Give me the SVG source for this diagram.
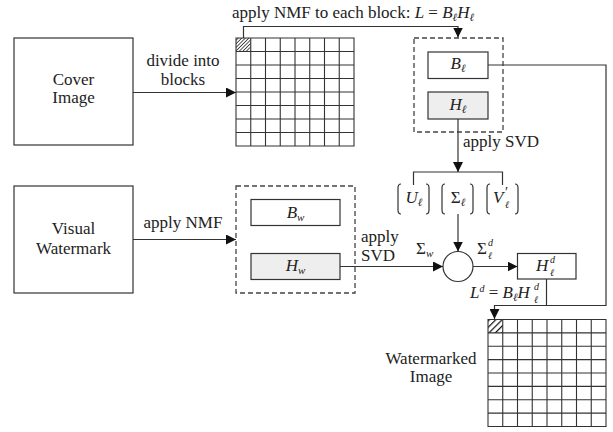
<svg xmlns="http://www.w3.org/2000/svg" width="613" height="432" viewBox="0 0 613 432">
<style>
text{font-family:"Liberation Serif","DejaVu Serif","Times New Roman",serif;font-size:17px;fill:#222}
.c{text-anchor:middle}
.m{font-style:italic}
.s{font-size:11px}
.t{font-size:10px;font-style:italic}
.box{fill:#fff;stroke:#333;stroke-width:1.2}
.gbox{fill:#eee;stroke:#333;stroke-width:1.2}
.dash{fill:none;stroke:#444;stroke-width:1.3;stroke-dasharray:5,3}
.ln{fill:none;stroke:#333;stroke-width:1.2}
.grid{stroke:#333;stroke-width:1.1;fill:none}
</style>
<defs>
<marker id="ahb" viewBox="0 0 10 10" refX="10" refY="5" markerWidth="10" markerHeight="10" markerUnits="userSpaceOnUse" orient="auto">
<path d="M0,0 L10,5 L0,10 z" fill="#111"/>
</marker>
<pattern id="h1" patternUnits="userSpaceOnUse" width="2.5" height="2.5" patternTransform="rotate(45)">
<rect width="2.5" height="2.5" fill="#fff"/>
<line x1="0" y1="0" x2="0" y2="2.5" stroke="#111" stroke-width="1.4"/>
</pattern>
<pattern id="h2" patternUnits="userSpaceOnUse" width="4.5" height="4.5" patternTransform="rotate(45)">
<rect width="4.5" height="4.5" fill="#fff"/>
<line x1="0" y1="0" x2="0" y2="4.5" stroke="#111" stroke-width="2.4"/>
</pattern>
</defs>

<g id="cover">
<rect class="box" x="14" y="38" width="119" height="107"/>
<text class="c" x="73.5" y="85">Cover</text>
<text class="c" x="73.5" y="103">Image</text>
</g>

<g id="watermark">
<rect class="box" x="14" y="186" width="119" height="107"/>
<text class="c" x="73.5" y="234">Visual</text>
<text class="c" x="73.5" y="254">Watermark</text>
</g>

<g id="grid1">
<rect x="236" y="38" width="14.75" height="13.5" fill="url(#h1)"/>
<path class="grid" d="M236,38H354V146H236Z M250.75,38V146 M265.5,38V146 M280.25,38V146 M295,38V146 M309.75,38V146 M324.5,38V146 M339.25,38V146 M236,51.5H354 M236,65H354 M236,78.5H354 M236,92H354 M236,105.5H354 M236,119H354 M236,132.5H354"/>
</g>

<g id="nmf-block">
<rect class="dash" x="414" y="38" width="89" height="94"/>
<g id="Bl">
<rect class="box" x="428" y="52" width="60" height="26.5"/>
<text class="c" x="458" y="69"><tspan class="m">B</tspan><tspan class="m s" dy="3">ℓ</tspan></text>
</g>
<g id="Hl">
<rect class="gbox" x="428" y="92" width="60" height="27"/>
<text class="c" x="458" y="110"><tspan class="m">H</tspan><tspan class="m s" dy="3">ℓ</tspan></text>
</g>
</g>

<g id="nmf-wm">
<rect class="dash" x="236" y="186" width="119" height="107"/>
<g id="Bw">
<rect class="box" x="251" y="199.5" width="89" height="26"/>
<text class="c" x="295.5" y="217.5"><tspan class="m">B</tspan><tspan class="m s" dy="3">w</tspan></text>
</g>
<g id="Hw">
<rect class="gbox" x="251" y="253.5" width="89" height="26"/>
<text class="c" x="295.5" y="271"><tspan class="m">H</tspan><tspan class="m s" dy="3">w</tspan></text>
</g>
</g>

<g id="svd">
<path class="ln" d="M401,184 q-3,0 -3,4 v22 q0,4 3,4 M426,184 q3,0 3,4 v22 q0,4 -3,4"/>
<text class="c" x="414" y="203"><tspan class="m">U</tspan><tspan class="m s" dy="3">ℓ</tspan></text>
<path class="ln" d="M445,184 q-3,0 -3,4 v22 q0,4 3,4 M470,184 q3,0 3,4 v22 q0,4 -3,4"/>
<text class="c" x="458" y="203">Σ<tspan class="m s" dy="3">ℓ</tspan></text>
<path class="ln" d="M490,184 q-3,0 -3,4 v22 q0,4 3,4 M515,184 q3,0 3,4 v22 q0,4 -3,4"/>
<text x="493" y="203" class="m">V</text>
<text x="505" y="197" style="font-size:14px">′</text>
<text x="505" y="207.5" class="t">ℓ</text>
</g>

<g id="combine">
<circle cx="458" cy="266.5" r="15" fill="#fff" stroke="#333" stroke-width="1.2"/>
</g>

<g id="Hd">
<rect class="box" x="517.5" y="253.5" width="58.5" height="25.5"/>
<text x="536" y="271" class="m">H</text>
<text x="550" y="263" class="t">d</text>
<text x="550" y="275.5" class="t">ℓ</text>
</g>

<g id="grid2">
<rect x="488" y="319.5" width="14.75" height="13.4" fill="url(#h2)"/>
<path class="grid" d="M488,319.5H606V426.5H488Z M502.75,319.5V426.5 M517.5,319.5V426.5 M532.25,319.5V426.5 M547,319.5V426.5 M561.75,319.5V426.5 M576.5,319.5V426.5 M591.25,319.5V426.5 M488,332.9H606 M488,346.25H606 M488,359.6H606 M488,373H606 M488,386.4H606 M488,399.75H606 M488,413.1H606"/>
<text class="c" x="431" y="364">Watermarked</text>
<text class="c" x="431" y="382">Image</text>
</g>

<g id="connectors">
<line class="ln" x1="133" y1="92.5" x2="236" y2="92.5" marker-end="url(#ahb)"/>
<text class="c" x="183" y="66">divide into</text>
<text class="c" x="183" y="84.5">blocks</text>

<polyline class="ln" points="243.5,38 243.5,26.5 458,26.5 458,37.5" marker-end="url(#ahb)"/>
<text class="c" x="353" y="17.5">apply NMF to each block: <tspan class="m">L</tspan> = <tspan class="m">B</tspan><tspan class="m s" dy="3">ℓ</tspan><tspan class="m" dy="-3">H</tspan><tspan class="m s" dy="3">ℓ</tspan></text>

<line class="ln" x1="458" y1="119" x2="458" y2="172" marker-end="url(#ahb)"/>
<text x="463" y="147">apply SVD</text>
<polyline class="ln" points="413.5,185 413.5,172 502.5,172 502.5,185"/>

<line class="ln" x1="458" y1="214" x2="458" y2="251.5" marker-end="url(#ahb)"/>

<line class="ln" x1="133" y1="239.5" x2="236" y2="239.5" marker-end="url(#ahb)"/>
<text class="c" x="183" y="228">apply NMF</text>

<line class="ln" x1="340" y1="266.5" x2="443" y2="266.5" marker-end="url(#ahb)"/>
<text x="361" y="241.5">apply</text>
<text x="361" y="260.5">SVD</text>
<text x="416" y="254">Σ<tspan class="m s" dy="3">w</tspan></text>

<line class="ln" x1="473" y1="266.5" x2="517.5" y2="266.5" marker-end="url(#ahb)"/>
<text x="477" y="254">Σ</text>
<text x="488" y="246" class="t">d</text>
<text x="488" y="258.5" class="t">ℓ</text>

<polyline class="ln" points="488,65 606,65 606,305.5 494.5,305.5 494.5,319" marker-end="url(#ahb)"/>
<line class="ln" x1="546.5" y1="279" x2="546.5" y2="305.5"/>
<text x="470" y="298"><tspan class="m">L</tspan><tspan class="t" dy="-6">d</tspan><tspan dy="6"> = </tspan><tspan class="m">B</tspan><tspan class="m s" dy="3">ℓ</tspan><tspan class="m" dy="-3">H</tspan></text>
<text x="534" y="290" class="t">d</text>
<text x="534" y="302.5" class="t">ℓ</text>
</g>
</svg>
